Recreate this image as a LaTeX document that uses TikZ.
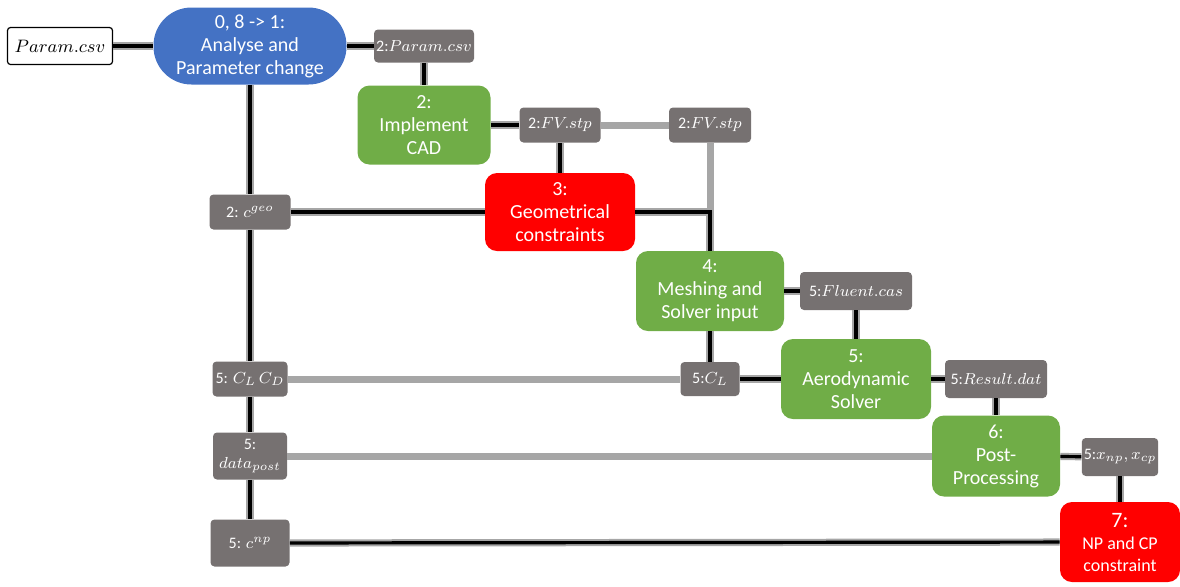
\documentclass[tikz,border=0pt]{standalone}
\usepackage{fontspec}
\setmainfont{Carlito}
\usepackage{tikz}
\definecolor{drvblue}{HTML}{4472C4}
\definecolor{fngreen}{HTML}{70AD47}
\definecolor{cnred}{HTML}{FF0000}
\definecolor{datgray}{HTML}{767171}
\definecolor{fbgray}{HTML}{A6A6A6}
\tikzstyle{box}=[inner sep=1pt,align=center,text=white,font=\fontsize{10}{11.5}\selectfont]
\tikzstyle{drv}=[box,fill=drvblue,rounded corners=19pt]
\tikzstyle{fn}=[box,fill=fngreen,rounded corners=6pt]
\tikzstyle{cn}=[box,fill=cnred,rounded corners=6pt]
\tikzstyle{dat}=[box,fill=datgray,rounded corners=2pt,font=\fontsize{8}{9.5}\selectfont]
\tikzstyle{inp}=[box,fill=white,draw=black,text=black,rounded corners=1.5pt,line width=.6pt]
\tikzstyle{dl}=[draw=fbgray,line width=1pt,double=black,double distance=1.6pt]
\tikzstyle{fb}=[draw=fbgray,line width=3.5pt]

\begin{document}
\begin{tikzpicture}[x=.5pt,y=-.5pt]
	\useasboundingbox (0,0) rectangle (1180,586);
	% tools and constraints
	\node[inp,minimum width=52.5pt,minimum height=18.5pt,font=\fontsize{9.5}{11}\selectfont] (I) at (60,46) {$Param.csv$};
	\node[drv,minimum width=96.5pt,minimum height=38.5pt] (O) at (250,46) {0, 8 -{}> 1:\\Analyse and\\Parameter change};
	\node[fn,minimum width=66.5pt,minimum height=39.5pt] (C2) at (424,125) {2:\\Implement\\CAD};
	\node[cn,minimum width=75pt,minimum height=39pt] (R3) at (560,212) {3:\\Geometrical\\constraints};
	\node[fn,minimum width=74pt,minimum height=40pt] (M4) at (710,291) {4:\\Meshing and\\Solver input};
	\node[fn,minimum width=75pt,minimum height=40pt] (A5) at (856,379) {5:\\Aerodynamic\\Solver};
	\node[fn,minimum width=64pt,minimum height=40.5pt] (P6) at (996,456) {6:\\Post-\\Processing};
	\node[cn,minimum width=60pt,minimum height=40pt,font=\fontsize{9}{11}\selectfont] (N7) at (1120,542) {{\fontsize{11}{12}\selectfont 7:}\\NP and CP\\constraint};
	% data
	\node[dat,minimum width=50pt,minimum height=16.5pt] (P2) at (424,46) {2:$Param.csv$};
	\node[dat,minimum width=40.5pt,minimum height=17.5pt] (F1) at (560,125) {2:$FV.stp$};
	\node[dat,minimum width=41pt,minimum height=17.5pt] (F2) at (710,125) {2:$FV.stp$};
	\node[dat,minimum width=40.5pt,minimum height=17.5pt] (G) at (250,212) {2: $c^{geo}$};
	\node[dat,minimum width=56pt,minimum height=19pt] (FC) at (856,291) {5:$Fluent.cas$};
	\node[dat,minimum width=29.5pt,minimum height=17pt] (CL) at (710,379) {5:$C_L$};
	\node[dat,minimum width=37.5pt,minimum height=17.5pt] (CLD) at (250,379) {5: $C_L\,C_D$};
	\node[dat,minimum width=51pt,minimum height=19pt] (RD) at (996,379) {5:$Result.dat$};
	\node[dat,minimum width=37pt,minimum height=23.5pt] (DP) at (250,456) {5:\\$data_{post}$};
	\node[dat,minimum width=38pt,minimum height=19pt] (X) at (1120,457) {5:$x_{np},x_{cp}$};
	\node[dat,minimum width=39.5pt,minimum height=23.5pt] (CNP) at (250,543) {5: $c^{np}$};
	% feedback
	\draw[fb] (F1) -- (F2);
	\draw[fb] (F2) -- (F2 |- R3);
	\draw[fb] (CL) -- (CLD);
	\draw[fb] (P6) -- (DP);
	% data flow
	\draw[dl] (I) -- (O);
	\draw[dl] (O) -- (P2);
	\draw[dl] (P2) -- (C2);
	\draw[dl] (O) -- (G);
	\draw[dl] (G) -- (CLD);
	\draw[dl] (CLD) -- (DP);
	\draw[dl] (DP) -- (CNP);
	\draw[dl] (G) -- (R3);
	\draw[dl] (C2) -- (F1);
	\draw[dl] (F1) -- (R3);
	\draw[dl] (R3) -| (M4);
	\draw[dl] (M4) -- (FC);
	\draw[dl] (FC) -- (A5);
	\draw[dl] (M4) -- (CL);
	\draw[dl] (CL) -- (A5);
	\draw[dl] (A5) -- (RD);
	\draw[dl] (RD) -- (P6);
	\draw[dl] (P6) -- (X);
	\draw[dl] (X) -- (N7);
	\draw[dl] (N7) -- (CNP);
\end{tikzpicture}
\end{document}
